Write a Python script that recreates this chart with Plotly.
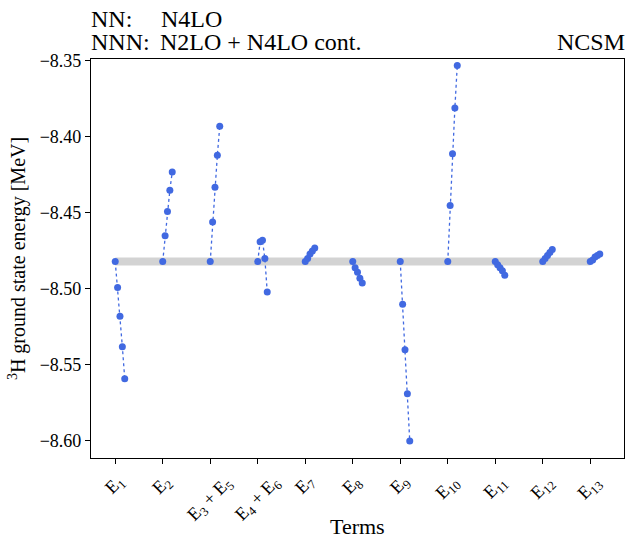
import plotly.graph_objects as go

# Term labels along the x axis
terms = ["E<sub>1</sub>", "E<sub>2</sub>", "E<sub>3</sub> + E<sub>5</sub>",
         "E<sub>4</sub> + E<sub>6</sub>", "E<sub>7</sub>", "E<sub>8</sub>",
         "E<sub>9</sub>", "E<sub>10</sub>", "E<sub>11</sub>", "E<sub>12</sub>",
         "E<sub>13</sub>"]

# Reference 3H ground state energy [MeV]
baseline = -8.482

# Energies for each term as its coefficient is varied (first entry = reference)
e1 = [-8.482, -8.499, -8.518, -8.538, -8.559]
e2 = [-8.482, -8.465, -8.449, -8.435, -8.423]
e3_e5 = [-8.482, -8.456, -8.433, -8.412, -8.393]
e4_e6 = [-8.482, -8.469, -8.468, -8.480, -8.502]
e7 = [-8.482, -8.480, -8.477, -8.475, -8.473]
e8 = [-8.482, -8.486, -8.489, -8.493, -8.496]
e9 = [-8.482, -8.510, -8.540, -8.569, -8.600]
e10 = [-8.482, -8.445, -8.411, -8.381, -8.353]
e11 = [-8.482, -8.484, -8.486, -8.488, -8.491]
e12 = [-8.482, -8.480, -8.478, -8.476, -8.474]
e13 = [-8.482, -8.481, -8.479, -8.478, -8.477]
series = [e1, e2, e3_e5, e4_e6, e7, e8, e9, e10, e11, e12, e13]

y_ticks = [-8.60, -8.55, -8.50, -8.45, -8.40, -8.35]

FONT = "Liberation Serif"
BLUE = "#4169e1"
STEP = 0.05  # horizontal spread of points within one term

fig = go.Figure()

# Grey band marking the reference energy
fig.add_trace(go.Scatter(
    x=[0, len(terms) - 1], y=[baseline, baseline], mode="lines",
    line=dict(color="#d3d3d3", width=8), hoverinfo="skip", showlegend=False))

for i, vals in enumerate(series):
    xs = [i + STEP * k for k in range(len(vals))]
    fig.add_trace(go.Scatter(
        x=xs, y=vals, mode="lines+markers",
        line=dict(color=BLUE, width=1.3, dash="dot"),
        marker=dict(color=BLUE, size=7),
        showlegend=False))

annotations = []
# Rotated term labels, centred under their ticks
for i, t in enumerate(terms):
    annotations.append(dict(
        x=i, y=0, xref="x", yref="paper", text=t, showarrow=False,
        textangle=-45, xanchor="center", yanchor="top", yshift=-11,
        font=dict(family=FONT, size=18, color="black")))

annotations.append(dict(
    x=0.5, y=0, xref="paper", yref="paper", text="Terms", showarrow=False,
    xanchor="center", yanchor="middle", yshift=-68,
    font=dict(family=FONT, size=22, color="black")))

# Header lines
def header(text, x, xanchor, xshift, yshift):
    return dict(text=text, x=x, y=1, xref="paper", yref="paper",
                showarrow=False, xanchor=xanchor, yanchor="middle",
                xshift=xshift, yshift=yshift,
                font=dict(family=FONT, size=24, color="black"))

annotations += [
    header("NN:", 0, "left", -2, 40),
    header("N4LO", 0, "left", 68, 40),
    header("NNN:", 0, "left", -2, 17),
    header("N2LO + N4LO cont.", 0, "left", 67, 17),
    header("NCSM", 1, "right", 3, 17),
]

fig.update_layout(
    width=628, height=540,
    margin=dict(l=91, r=4, t=59, b=82),
    paper_bgcolor="white", plot_bgcolor="white",
    font=dict(family=FONT, size=18, color="black"),
    annotations=annotations,
    xaxis=dict(
        range=[-0.51, 10.71], tickvals=list(range(len(terms))),
        showticklabels=False, ticks="outside", ticklen=5, tickcolor="black",
        showline=True, mirror=True, linecolor="black", linewidth=1.2,
        showgrid=False, zeroline=False),
    yaxis=dict(
        range=[-8.6112, -8.3487], tickvals=y_ticks, tickformat=".2f",
        ticks="outside", ticklen=5, tickcolor="black",
        tickfont=dict(family=FONT, size=18),
        showline=True, mirror=True, linecolor="black", linewidth=1.2,
        showgrid=False, zeroline=False,
        title=dict(text="<sup>3</sup>H ground state energy [MeV]",
                   font=dict(family=FONT, size=20), standoff=8)),
)

fig.write_html("out.html")
